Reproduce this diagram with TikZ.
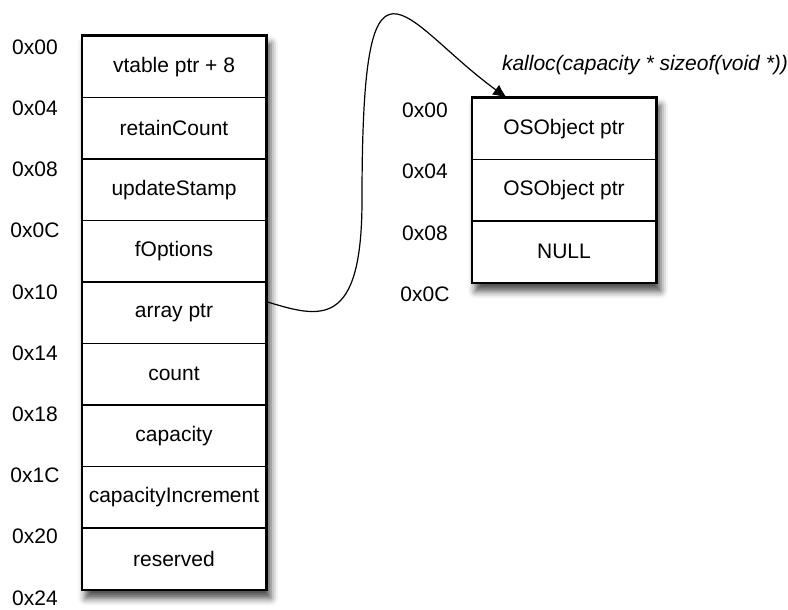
\documentclass[tikz,border=0pt]{standalone}
\usepackage{fontspec}
\setmainfont{Liberation Sans}
\usetikzlibrary{positioning,fit,backgrounds,arrows.meta,shadows.blur}

\tikzset{
  cell/.style={draw, line width=0.75pt, fill=white, minimum width=92pt,
    minimum height=30.75pt, inner sep=0pt, font=\fontsize{10.5}{12}\selectfont},
  frame/.style={draw, line width=0.75pt, fill=white, inner sep=0pt,
    blur shadow={shadow xshift=2pt, shadow yshift=-4pt,
      shadow blur radius=3.5pt, shadow opacity=70}},
  offset/.style={font=\fontsize{10.5}{12}\selectfont},
  pointer/.style={line width=0.6pt, -{Latex[length=7pt,width=6pt]}},
}

\begin{document}
\begin{tikzpicture}[x=0.5pt, y=-0.5pt]
	\useasboundingbox (0,0) rectangle (788,610);

	% the OSArray object, one cell per field (cells are 61.5 units tall)
	\foreach \field [count=\i] in {vtable ptr + 8, retainCount, updateStamp,
	    fOptions, array ptr, count, capacity, capacityIncrement, reserved}
	  \node[cell] (L\i) at ({174},{36+61.5*(\i-0.5)}) {\field};

	% byte offsets on the left
	\foreach \off [count=\i from 0] in {0x00,0x04,0x08,0x0C,0x10,0x14,0x18,0x1C,0x20,0x24}
	  \node[offset] (LO\i) at ({35},{47+61.2*\i}) {\off};

	% the array that was allocated
	\foreach \field [count=\i] in {OSObject ptr, OSObject ptr, NULL}
	  \node[cell] (R\i) at ({564},{98+61.5*(\i-0.5)}) {\field};

	\foreach \off [count=\i from 0] in {0x00,0x04,0x08,0x0C}
	  \node[offset] (RO\i) at ({425},{110+61.5*\i}) {\off};

	\node[offset, font=\fontsize{10.5}{12}\selectfont\itshape] (kalloc) at (645,65)
	  {kalloc(capacity * sizeof(void *))};

	% frames with their shadows, behind the cells
	\begin{scope}[on background layer]
	  \node[frame, fit=(L1)(L9)] (left) {};
	  \node[frame, fit=(R1)(R3)] (right) {};
	\end{scope}

	% array ptr -> start of the array
	\coordinate (Rin) at (507,98);
	\draw[pointer] ([yshift=5.5pt]L5.east)
	  .. controls (320,318) and (362,330) .. (362,200)
	  .. controls (362,-80) and (400,20) .. (Rin);
\end{tikzpicture}
\end{document}
